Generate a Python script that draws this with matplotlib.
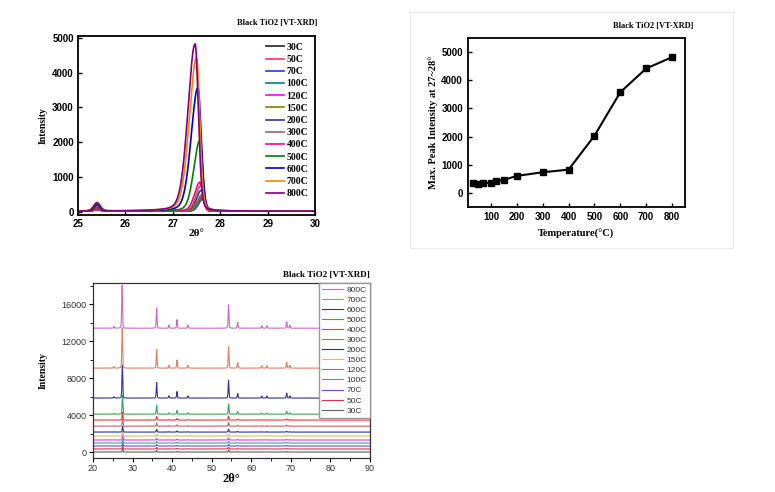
import numpy as np
import matplotlib
matplotlib.use('Agg')
import matplotlib.pyplot as plt
from matplotlib.patches import Rectangle

# ---- data ----
labels = ['30C', '50C', '70C', '100C', '120C', '150C', '200C', '300C', '400C', '500C', '600C', '700C', '800C']
temps = [30, 50, 70, 100, 120, 150, 200, 300, 400, 500, 600, 700, 800]
max_peak = [350, 340, 350, 370, 430, 470, 610, 740, 830, 2030, 3570, 4410, 4810]

# rutile (110) peak in the 25-30 zoom: position, height, left/right half widths
main_pos = [27.62, 27.62, 27.63, 27.62, 27.61, 27.61, 27.60, 27.59, 27.57, 27.57, 27.53, 27.50, 27.47]
main_h = [380, 350, 360, 370, 430, 470, 600, 730, 830, 2030, 3550, 4400, 4800]
main_wl = [0.10, 0.10, 0.10, 0.10, 0.11, 0.11, 0.12, 0.12, 0.13, 0.15, 0.17, 0.18, 0.18]
main_wr = [0.06, 0.06, 0.06, 0.06, 0.06, 0.06, 0.07, 0.07, 0.07, 0.07, 0.08, 0.08, 0.08]
anatase_h = [40, 40, 45, 45, 50, 50, 55, 60, 70, 120, 180, 250, 230]

# full pattern: other reflections relative to the (110) peak
peak_pos = [25.3, 36.1, 39.2, 41.25, 44.0, 54.3, 56.6, 62.7, 64.0, 69.0, 69.8]
peak_ratio = [0.04, 0.47, 0.07, 0.20, 0.07, 0.54, 0.14, 0.06, 0.06, 0.15, 0.07]
full_h = [380, 350, 360, 370, 430, 470, 600, 730, 830, 2030, 3560, 4320, 4650]
offsets = [0, 330, 650, 970, 1300, 1730, 2160, 2800, 3460, 4100, 5840, 9080, 13400]

colors_top = ['#222222', '#ff3355', '#2233ff', '#008080', '#ff00ff', '#808000', '#333399',
              '#996666', '#ff0080', '#008000', '#0000cc', '#ff8000', '#800080']
colors_bot = ['#556655', '#dd3344', '#5555dd', '#33aa99', '#ee33ee', '#d4c060', '#2233aa',
              '#d06060', '#ff3333', '#33aa55', '#333399', '#e08060', '#cc66cc']


def split_pv(x, c, h, wl, wr, eta=0.2):
    w = np.where(x < c, wl, wr)
    d = (x - c) / w
    return h * (eta / (1 + d ** 2) + (1 - eta) * np.exp(-np.log(2) * d ** 2))


serif = 'Liberation Serif'
sans = 'Liberation Sans'

fig = plt.figure(figsize=(7.75, 4.92), dpi=100)

# ---- top left: zoom 25-30 ----
ax1 = fig.add_axes([0.1006, 0.563, 0.306, 0.364])
x = np.arange(25, 30.0005, 0.005)
for i in range(len(labels)):
    y = 20 + split_pv(x, main_pos[i], main_h[i], main_wl[i], main_wr[i])
    y += split_pv(x, 25.40, anatase_h[i], 0.08, 0.08)
    ax1.plot(x, y, color=colors_top[i], lw=1.2, label=labels[i])
ax1.set_xlim(25, 30)
ax1.set_ylim(-90, 5050)
ax1.set_xticks([25, 26, 27, 28, 29, 30])
ax1.set_yticks([0, 1000, 2000, 3000, 4000, 5000])
ax1.tick_params(direction='in', length=3, width=1, labelsize=7, pad=3)
for t in ax1.get_xticklabels() + ax1.get_yticklabels():
    t.set_fontfamily(sans)
    t.set_fontweight('bold')
for s in ax1.spines.values():
    s.set_linewidth(1.3)
ax1.set_xlabel('2θ°', family=serif, fontweight='bold', fontsize=8, labelpad=0)
ax1.set_ylabel('Intensity', family=serif, fontweight='bold', fontsize=7, labelpad=3)
leg = ax1.legend(loc='upper right', frameon=False, prop={'family': serif, 'weight': 'bold', 'size': 7},
                 handlelength=1.8, handletextpad=0.3, labelspacing=0.33, borderaxespad=0.3)
fig.text(0.41, 0.95, 'Black TiO2 [VT-XRD]', family=serif, fontweight='bold', fontsize=6, ha='right')

# ---- top right: max peak vs temperature ----
fig.add_artist(Rectangle((410 / 775, 1 - 248 / 492), 323 / 775, 236 / 492, transform=fig.transFigure,
                         fill=False, edgecolor='#e8e8e8', lw=0.8))
ax2 = fig.add_axes([0.6035, 0.5787, 0.2803, 0.3447])
ax2.plot(temps, max_peak, color='black', lw=1.5, marker='s', markersize=5)
ax2.set_xlim(10, 850)
ax2.set_ylim(-500, 5500)
ax2.set_xticks(range(100, 801, 100))
ax2.set_yticks(range(0, 5001, 1000))
ax2.tick_params(direction='in', length=3, width=1, labelsize=7)
for t in ax2.get_xticklabels() + ax2.get_yticklabels():
    t.set_fontfamily(sans)
    t.set_fontweight('bold')
for s in ax2.spines.values():
    s.set_linewidth(1.3)
ax2.set_xlabel('Temperature(°C)', family=serif, fontweight='bold', fontsize=7.5, labelpad=5)
ax2.set_ylabel('Max. Peak Intensity at 27~28°', family=serif, fontweight='bold', fontsize=7.5, labelpad=2)
fig.text(0.895, 0.943, 'Black TiO2 [VT-XRD]', family=serif, fontweight='bold', fontsize=6, ha='right')

# ---- bottom: full patterns, stacked ----
ax3 = fig.add_axes([0.12, 0.069, 0.357, 0.356])
xf = np.arange(20, 90.0005, 0.01)
for i in range(len(labels)):
    y = offsets[i] + split_pv(xf, main_pos[i] - 0.1, full_h[i], 0.13, 0.11)
    for p, r in zip(peak_pos, peak_ratio):
        y += split_pv(xf, p, full_h[i] * r, 0.12, 0.12)
    ax3.plot(xf, y, color=colors_bot[i], lw=0.8, label=labels[i])
ax3.set_xlim(20, 90)
ax3.set_ylim(-650, 18300)
ax3.set_xticks(range(20, 91, 10))
ax3.set_xticks(range(25, 90, 10), minor=True)
ax3.set_yticks([0, 4000, 8000, 12000, 16000])
ax3.set_yticks([2000, 6000, 10000, 14000, 18000], minor=True)
ax3.tick_params(which='major', direction='out', length=3, width=0.8, labelsize=6.5,
                labelcolor='#333333', pad=1.5)
ax3.tick_params(which='minor', direction='out', length=2, width=0.6)
for t in ax3.get_xticklabels() + ax3.get_yticklabels():
    t.set_fontfamily(sans)
for s in ax3.spines.values():
    s.set_linewidth(0.9)
    s.set_color('#333333')
ax3.set_xlabel('2θ°', family=serif, fontweight='bold', fontsize=9, labelpad=0)
ax3.set_ylabel('Intensity', family=serif, fontweight='bold', fontsize=7, labelpad=10)
h, l = ax3.get_legend_handles_labels()
lg = ax3.legend(h[::-1], l[::-1], loc='upper right', prop={'family': sans, 'size': 6},
                handlelength=2.6, handletextpad=0.4, labelspacing=0.27, borderaxespad=0,
                borderpad=0.35, fancybox=False, framealpha=1, edgecolor='#999999')
for t in lg.get_texts():
    t.set_color('#333333')
fig.text(0.477, 0.437, 'Black TiO2 [VT-XRD]', family=serif, fontweight='bold', fontsize=6.5, ha='right')

fig.savefig('out.png', dpi=100)
